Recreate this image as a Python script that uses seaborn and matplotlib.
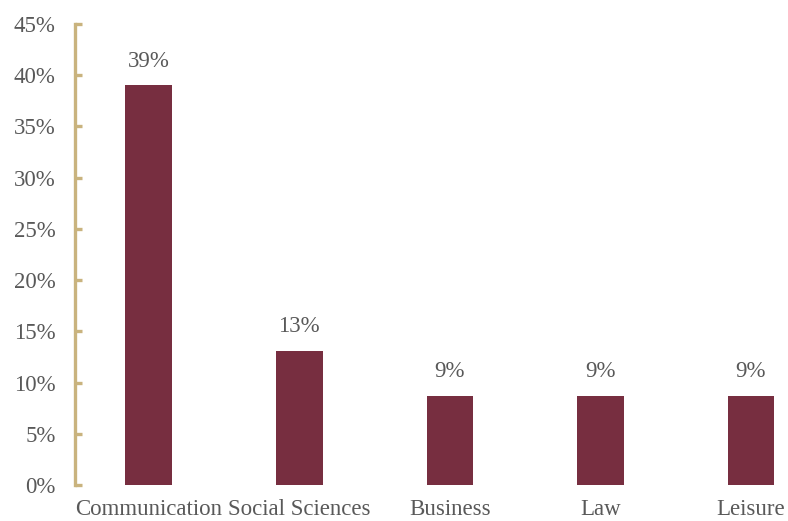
import matplotlib
matplotlib.use("Agg")
import matplotlib.pyplot as plt
import seaborn as sns
import pandas as pd

categories = ["Communication", "Social Sciences", "Business", "Law", "Leisure"]
values = [39.0, 13.1, 8.7, 8.7, 8.7]
labels = ["39%", "13%", "9%", "9%", "9%"]
yticks = [0, 5, 10, 15, 20, 25, 30, 35, 40, 45]

sns.set_theme(style="white")
plt.rcParams["font.family"] = ["Liberation Serif", "DejaVu Serif"]

TEXT = "#595959"
BAR = "#772E40"
GOLD = "#C9B37E"
FS = 16.5

df = pd.DataFrame({"cat": categories, "val": values})

fig = plt.figure(figsize=(7.88, 5.21), dpi=100)
W, H = 788, 521
x0, x1 = 75, 788
y0, y1 = 485, 24
ax = fig.add_axes([x0 / W, (H - y0) / H, (x1 - x0) / W, (y0 - y1) / H])

sns.barplot(data=df, x="cat", y="val", color=BAR, width=0.31, ax=ax,
            saturation=1, edgecolor="none")

ax.set_xlim(-0.49, 4.246)
ax.set_ylim(0, 45)
ax.set_yticks(yticks)
ax.set_yticklabels([f"{v}%" for v in yticks])
ax.set_xlabel("")
ax.set_ylabel("")

for s in ["top", "right", "bottom"]:
    ax.spines[s].set_visible(False)
ax.spines["left"].set_color(GOLD)
ax.spines["left"].set_linewidth(2.4)

ax.tick_params(axis="y", direction="in", length=5, width=2.4, color=GOLD,
               labelsize=FS, labelcolor=TEXT, pad=14, left=True)
ax.tick_params(axis="x", length=0, labelsize=FS, labelcolor=TEXT, pad=10)

for i, (v, lab) in enumerate(zip(values, labels)):
    ax.annotate(lab, xy=(i, v), xytext=(0, 10), textcoords="offset points",
                ha="center", va="bottom", fontsize=FS, color=TEXT)

ax.grid(False)
fig.savefig("out.png", dpi=100)
